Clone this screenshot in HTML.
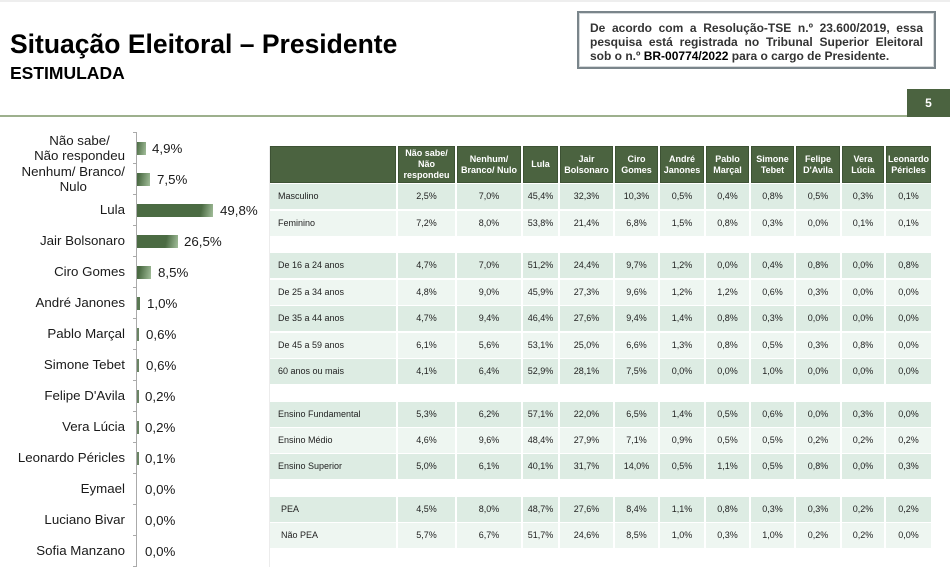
<!DOCTYPE html>
<html><head><meta charset="utf-8">
<style>
*{margin:0;padding:0;box-sizing:border-box}
body{width:950px;height:567px;overflow:hidden;position:relative;background:#fff;font-family:"Liberation Sans",Arial,sans-serif;color:#1a1a1a}
.a{position:absolute}
.t1{left:10px;top:29px;font-size:26.5px;font-weight:bold;line-height:30px;white-space:nowrap;color:#000}
.t2{left:10px;top:63px;font-size:17.5px;font-weight:bold;line-height:20px;color:#000}
.note{left:577px;top:11px;width:359px;height:58px;border:2px solid #7a858b;box-shadow:inset 0 0 0 1px #d5d9db;padding:8px 11px 0 11px;font-size:12px;line-height:14px;font-weight:bold;color:#333}
.note span{display:block;text-align:justify;text-align-last:justify;white-space:nowrap}
.note span.last{text-align-last:left}
.note b{color:#000}
.gl{left:0;top:115px;width:907px;height:2px;background:#9db08d}
.pg{left:907px;top:89px;width:43px;height:28px;background:#4b6340;color:#fff;font-weight:bold;font-size:12px;line-height:28px;text-align:center}
.lab{position:absolute;right:825px;font-size:13.3px;line-height:15px;text-align:center;white-space:nowrap;color:#1a1a1a}
.bar{position:absolute;left:137px;height:13px;background:linear-gradient(100deg,#4b6b43 0,#4b6b43 calc(100% - 13px),#a3bf9b 100%)}
.val{position:absolute;font-size:13.3px;line-height:15px;white-space:nowrap;color:#1a1a1a}
.tick{position:absolute;left:133px;width:4px;height:1px;background:#aaa}
.c{position:absolute;height:25px;font-size:9px;line-height:25px;text-align:center;color:#222;white-space:nowrap}
.h{position:absolute;top:146px;height:37px;background:#4b6340;color:#fff;font-weight:bold;font-size:9px;line-height:11px;text-align:center;display:flex;align-items:center;justify-content:center;box-shadow:inset 0 0 0 1px #3d5234}
.d{background:#ddece3}
.l{background:#eef6f1}
</style></head><body>
<div class="a" style="left:0;top:0;width:950px;height:2px;background:#eee"></div>
<div class="a t1">Situação Eleitoral – Presidente</div>
<div class="a t2">ESTIMULADA</div>
<div class="a note"><span>De acordo com a Resolução-TSE n.º 23.600/2019, essa</span><span>pesquisa está registrada no Tribunal Superior Eleitoral</span><span class="last">sob o n.º <b>BR-00774/2022</b> para o cargo de Presidente.</span></div>
<div class="a gl"></div>
<div class="a pg">5</div>

<!-- chart axis -->
<div class="a" style="left:136px;top:132px;width:1px;height:435px;background:#aaa"></div>
<div class="tick" style="top:132px"></div><div class="tick" style="top:163px"></div><div class="tick" style="top:194px"></div><div class="tick" style="top:225px"></div><div class="tick" style="top:256px"></div><div class="tick" style="top:287px"></div><div class="tick" style="top:318px"></div><div class="tick" style="top:349px"></div><div class="tick" style="top:380px"></div><div class="tick" style="top:411px"></div><div class="tick" style="top:442px"></div><div class="tick" style="top:473px"></div><div class="tick" style="top:504px"></div><div class="tick" style="top:535px"></div><div class="tick" style="top:566px"></div>

<div class="lab" style="top:133px">Não sabe/<br>Não respondeu</div>
<div class="lab" style="top:164px">Nenhum/ Branco/<br>Nulo</div>
<div class="lab" style="top:202px">Lula</div>
<div class="lab" style="top:233px">Jair Bolsonaro</div>
<div class="lab" style="top:264px">Ciro Gomes</div>
<div class="lab" style="top:295px">André Janones</div>
<div class="lab" style="top:326px">Pablo Marçal</div>
<div class="lab" style="top:357px">Simone Tebet</div>
<div class="lab" style="top:388px">Felipe D'Avila</div>
<div class="lab" style="top:419px">Vera Lúcia</div>
<div class="lab" style="top:450px">Leonardo Péricles</div>
<div class="lab" style="top:481px">Eymael</div>
<div class="lab" style="top:512px">Luciano Bivar</div>
<div class="lab" style="top:543px">Sofia Manzano</div>

<div class="bar" style="top:142px;width:9px"></div><div class="val" style="left:152px;top:141px">4,9%</div>
<div class="bar" style="top:173px;width:13px"></div><div class="val" style="left:157px;top:172px">7,5%</div>
<div class="bar" style="top:204px;width:76px"></div><div class="val" style="left:220px;top:203px">49,8%</div>
<div class="bar" style="top:235px;width:41px"></div><div class="val" style="left:184px;top:234px">26,5%</div>
<div class="bar" style="top:266px;width:14px"></div><div class="val" style="left:158px;top:265px">8,5%</div>
<div class="bar" style="top:297px;width:3px;background:#5a7853"></div><div class="val" style="left:147px;top:296px">1,0%</div>
<div class="bar" style="top:328px;width:2px;background:#6a8464"></div><div class="val" style="left:146px;top:327px">0,6%</div>
<div class="bar" style="top:359px;width:2px;background:#6a8464"></div><div class="val" style="left:146px;top:358px">0,6%</div>
<div class="bar" style="top:390px;width:2px;background:#6a8464"></div><div class="val" style="left:145px;top:389px">0,2%</div>
<div class="bar" style="top:421px;width:2px;background:#6a8464"></div><div class="val" style="left:145px;top:420px">0,2%</div>
<div class="bar" style="top:452px;width:2px;background:#6a8464"></div><div class="val" style="left:145px;top:451px">0,1%</div>
<div class="val" style="left:145px;top:482px">0,0%</div>
<div class="val" style="left:145px;top:513px">0,0%</div>
<div class="val" style="left:145px;top:544px">0,0%</div>

<div class="a" style="left:269px;top:146px;width:1px;height:421px;background:#ececec"></div>

<!-- table header -->
<div class="h" style="left:270px;width:126px"></div>
<div class="h" style="left:398px;width:57px">Não sabe/<br>Não<br>respondeu</div>
<div class="h" style="left:457px;width:64px">Nenhum/<br>Branco/ Nulo</div>
<div class="h" style="left:523px;width:35px">Lula</div>
<div class="h" style="left:560px;width:53px">Jair<br>Bolsonaro</div>
<div class="h" style="left:615px;width:43px">Ciro<br>Gomes</div>
<div class="h" style="left:660px;width:44px">André<br>Janones</div>
<div class="h" style="left:706px;width:43px">Pablo<br>Marçal</div>
<div class="h" style="left:751px;width:43px">Simone<br>Tebet</div>
<div class="h" style="left:796px;width:44px">Felipe<br>D'Avila</div>
<div class="h" style="left:842px;width:42px">Vera<br>Lúcia</div>
<div class="h" style="left:886px;width:45px">Leonardo<br>Péricles</div>

<div id="rows"></div>
<script>
var cols=[[270,126],[398,57],[457,64],[523,35],[560,53],[615,43],[660,44],[706,43],[751,43],[796,44],[842,42],[886,45]];
var rows=[
[184,'d','Masculino',8,'2,5 7,0 45,4 32,3 10,3 0,5 0,4 0,8 0,5 0,3 0,1'],
[211,'l','Feminino',8,'7,2 8,0 53,8 21,4 6,8 1,5 0,8 0,3 0,0 0,1 0,1'],
[253,'d','De 16 a 24 anos',8,'4,7 7,0 51,2 24,4 9,7 1,2 0,0 0,4 0,8 0,0 0,8'],
[280,'l','De 25 a 34 anos',8,'4,8 9,0 45,9 27,3 9,6 1,2 1,2 0,6 0,3 0,0 0,0'],
[306,'d','De 35 a 44 anos',8,'4,7 9,4 46,4 27,6 9,4 1,4 0,8 0,3 0,0 0,0 0,0'],
[333,'l','De 45 a 59 anos',8,'6,1 5,6 53,1 25,0 6,6 1,3 0,8 0,5 0,3 0,8 0,0'],
[359,'d','60 anos ou mais',8,'4,1 6,4 52,9 28,1 7,5 0,0 0,0 1,0 0,0 0,0 0,0'],
[402,'d','Ensino Fundamental',8,'5,3 6,2 57,1 22,0 6,5 1,4 0,5 0,6 0,0 0,3 0,0'],
[428,'l','Ensino Médio',8,'4,6 9,6 48,4 27,9 7,1 0,9 0,5 0,5 0,2 0,2 0,2'],
[454,'d','Ensino Superior',8,'5,0 6,1 40,1 31,7 14,0 0,5 1,1 0,5 0,8 0,0 0,3'],
[497,'d','PEA',11,'4,5 8,0 48,7 27,6 8,4 1,1 0,8 0,3 0,3 0,2 0,2'],
[523,'l','Não PEA',11,'5,7 6,7 51,7 24,6 8,5 1,0 0,3 1,0 0,2 0,2 0,0']];
var h='';
rows.forEach(function(r){
 var v=r[4].split(' ');
 h+='<div class="c '+r[1]+'" style="top:'+r[0]+'px;left:270px;width:126px;text-align:left;padding-left:'+r[3]+'px">'+r[2]+'</div>';
 for(var i=1;i<12;i++){h+='<div class="c '+r[1]+'" style="top:'+r[0]+'px;left:'+cols[i][0]+'px;width:'+cols[i][1]+'px">'+v[i-1]+'%</div>';}
});
document.getElementById('rows').innerHTML=h;
</script>
</body></html>
